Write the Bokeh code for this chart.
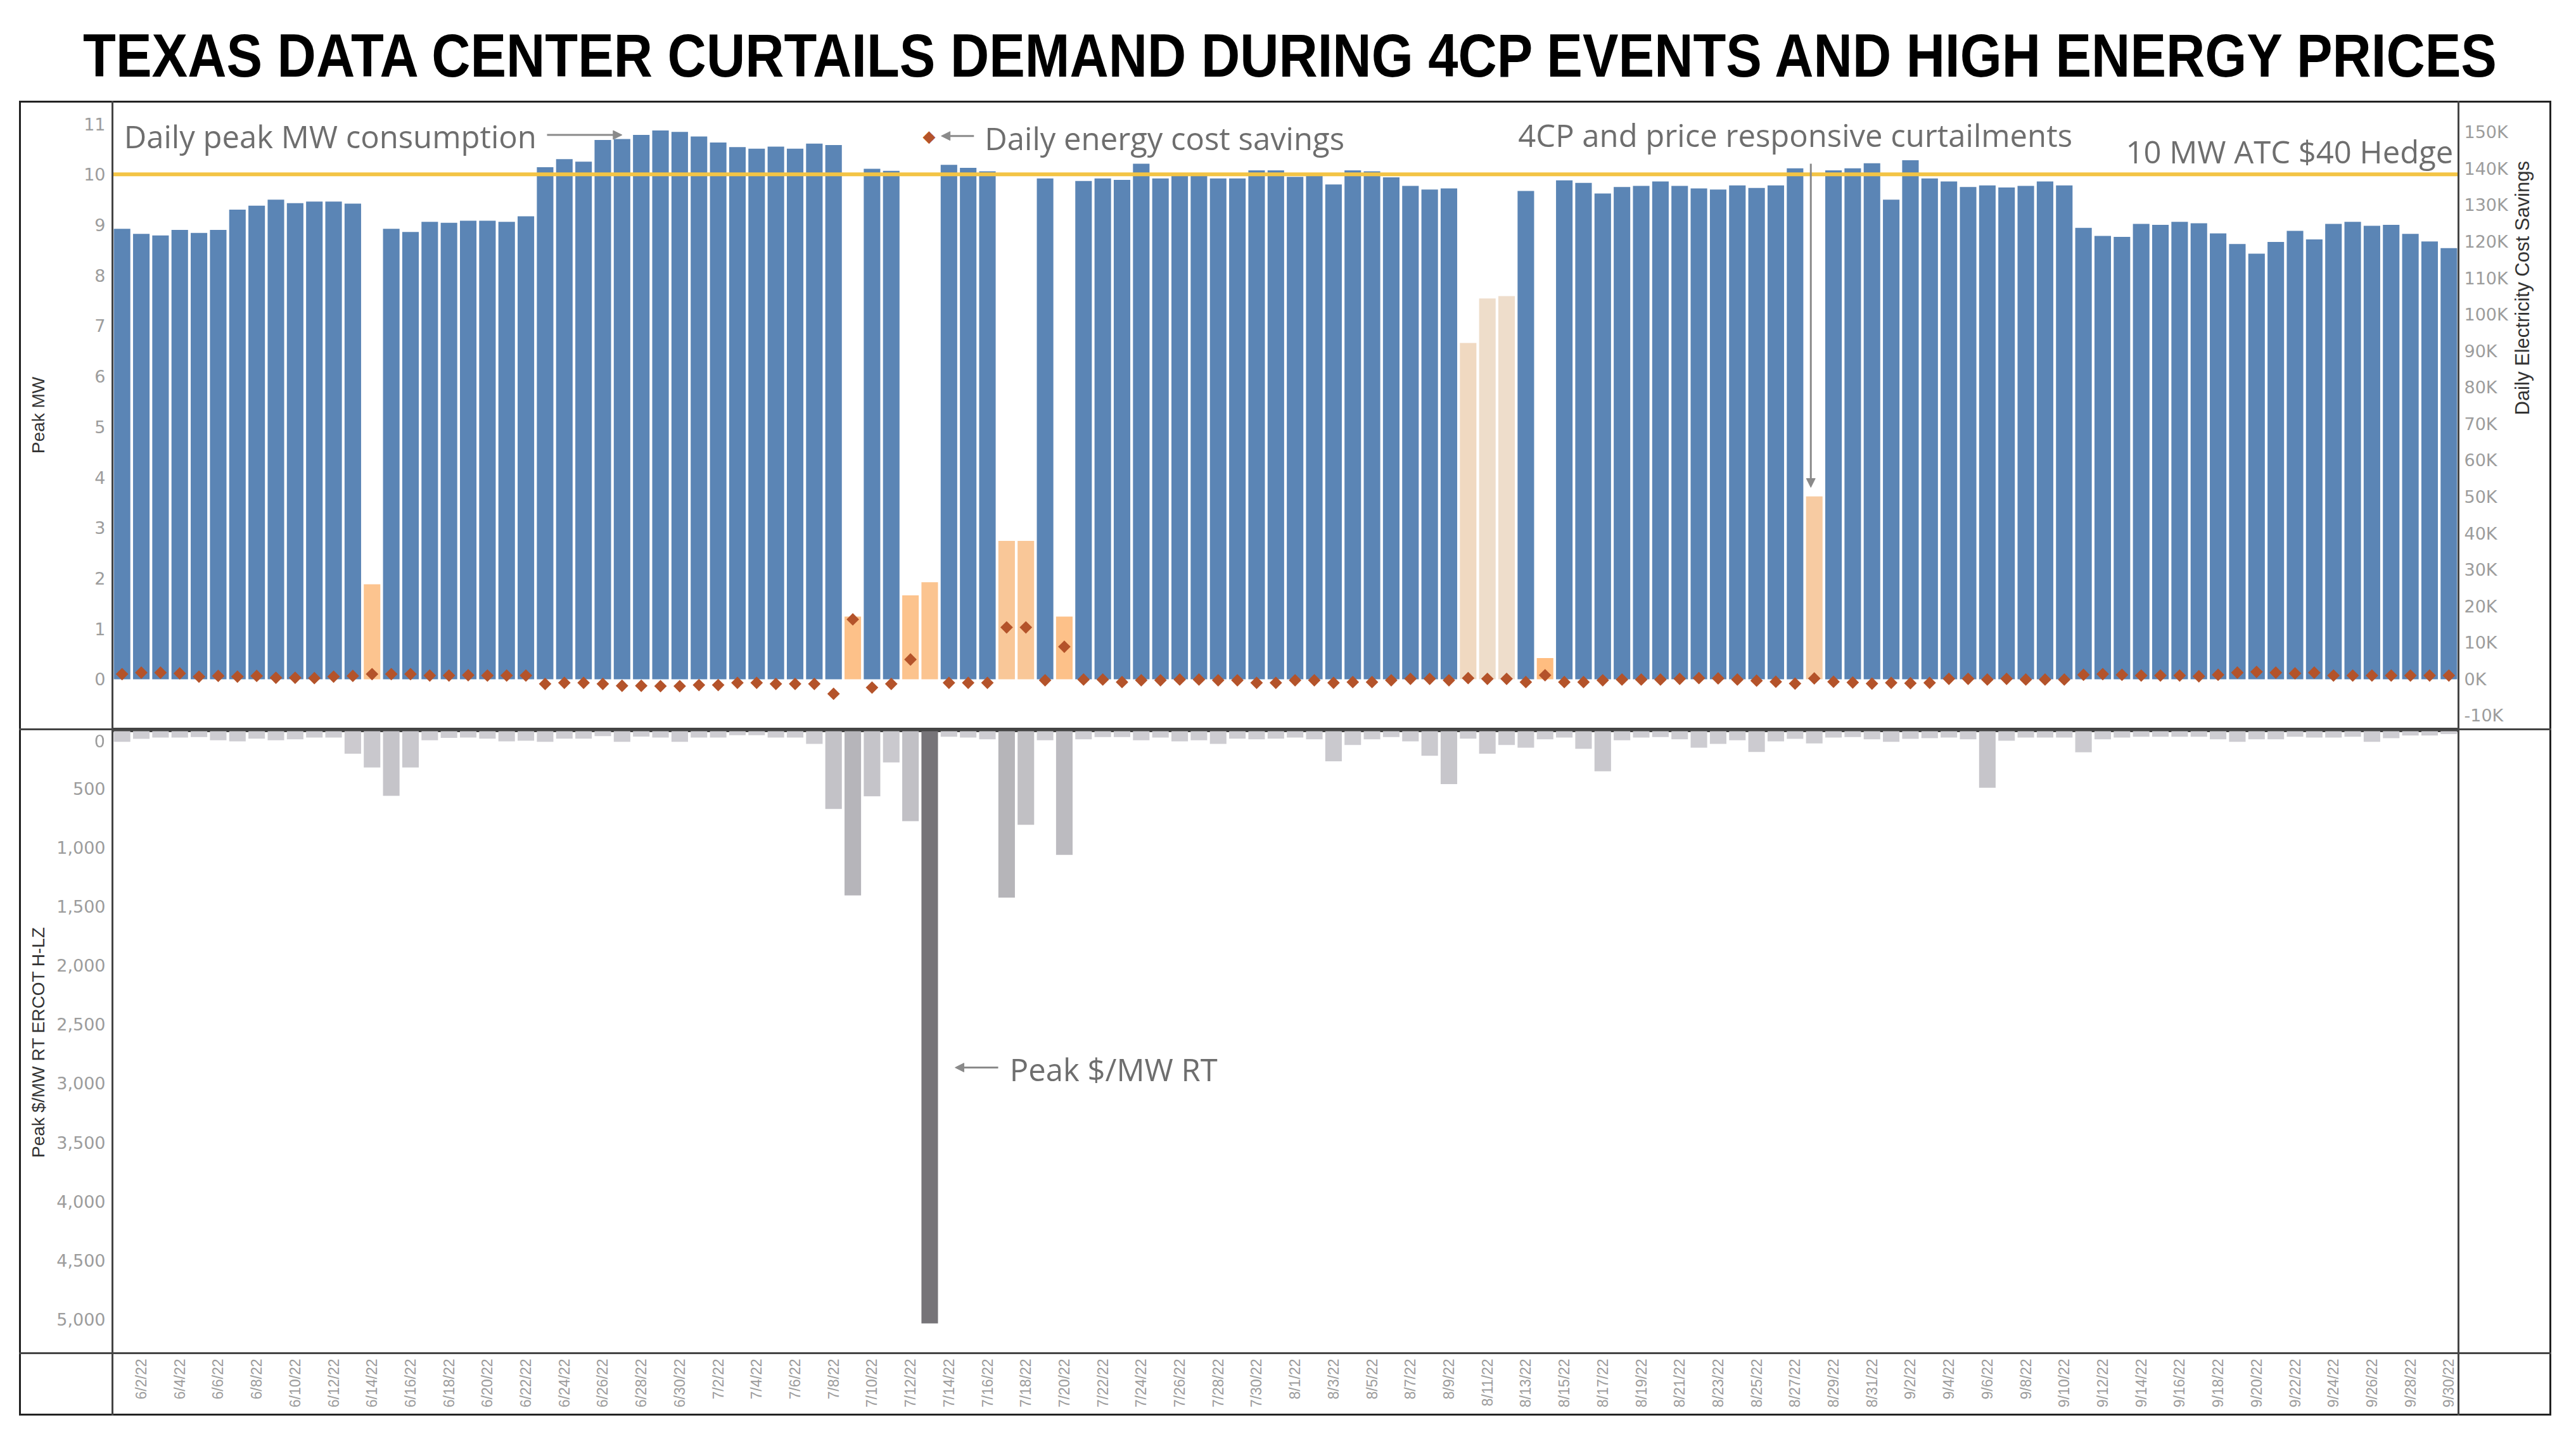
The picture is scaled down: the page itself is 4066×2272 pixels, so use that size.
import math
import numpy as np
import pandas as pd
from bokeh.plotting import figure
from bokeh.layouts import column
from bokeh.models import (Range1d, LinearAxis, FixedTicker, NumeralTickFormatter, PrintfTickFormatter,
                          ColumnDataSource, Span, Label, Arrow, NormalHead, Div)
from bokeh.transform import linear_cmap
from bokeh.embed import file_html
from bokeh.resources import INLINE

# ---------------- data ----------------
dates = [f"{d.month}/{d.day}/{d.year % 100}" for d in pd.date_range("2022-06-01", "2022-09-30")]

peak_mw = [
    8.92, 8.82, 8.79, 8.90, 8.84, 8.90, 9.30, 9.38, 9.50, 9.43, 9.46, 9.46, 9.42, 1.88, 8.92,
    8.86, 9.06, 9.04, 9.08, 9.08, 9.06, 9.17, 10.14, 10.30, 10.25, 10.68, 10.70, 10.78, 10.87, 10.84,
    10.75, 10.63, 10.54, 10.51, 10.55, 10.51, 10.61, 10.58, 1.24, 10.11, 10.07, 1.66, 1.92, 10.19, 10.13,
    10.06, 2.74, 2.74, 9.92, 1.24, 9.87, 9.92, 9.89, 10.21, 9.92, 9.98, 9.98, 9.92, 9.92, 10.08, 10.08,
    9.95, 9.98, 9.80, 10.08, 10.06, 9.94, 9.77, 9.70, 9.72, 6.66, 7.54, 7.59, 9.67, 0.42, 9.88,
    9.83, 9.62, 9.75, 9.77, 9.86, 9.77, 9.72, 9.70, 9.78, 9.73, 9.78, 10.12, 3.62, 10.08, 10.12, 10.22,
    9.50, 10.28, 9.92, 9.86, 9.75, 9.78, 9.74, 9.77, 9.86, 9.78, 8.94, 8.78, 8.76, 9.02, 9.00,
    9.06, 9.03, 8.83, 8.62, 8.43, 8.66, 8.88, 8.71, 9.02, 9.06, 8.98, 9.00, 8.82, 8.67, 8.54,
]

savings_k = [
    1.4, 1.8, 1.8, 1.6, 0.7, 0.9, 0.7, 0.9, 0.4, 0.4, 0.3, 0.7, 0.9, 1.4, 1.4,
    1.4, 1.0, 1.0, 1.1, 1.0, 1.0, 1.0, -1.3, -1.0, -1.0, -1.3, -1.8, -1.8, -1.9, -1.9,
    -1.6, -1.6, -1.0, -1.0, -1.3, -1.3, -1.3, -4.0, 16.4, -2.3, -1.3, 5.4, float("nan"), -1.0, -1.0,
    -1.0, 14.2, 14.2, -0.3, 8.9, -0.1, -0.1, -0.8, -0.3, -0.3, -0.1, -0.1, -0.3, -0.3, -1.0, -1.0,
    -0.3, -0.3, -1.0, -0.8, -0.8, -0.3, 0.1, 0.1, -0.3, 0.3, 0.1, 0.1, -0.8, 1.1, -0.8,
    -0.8, -0.3, -0.1, -0.1, -0.1, 0.1, 0.3, 0.2, -0.1, -0.4, -0.7, -1.2, 0.2, -0.7, -0.9, -1.2,
    -1.0, -1.1, -1.0, 0.1, 0.1, -0.1, 0.1, -0.1, -0.1, -0.1, 1.2, 1.4, 1.2, 1.0, 1.0,
    1.0, 0.8, 1.2, 1.8, 2.0, 1.8, 1.6, 1.8, 1.0, 1.0, 1.0, 1.0, 1.0, 1.0, 1.0,
]

peak_price = [
    104, 79, 68, 68, 64, 91, 100, 77, 91, 82, 68, 68, 204, 322, 562,
    322, 91, 70, 68, 77, 100, 95, 104, 77, 77, 55, 104, 59, 68, 104,
    68, 68, 47, 47, 68, 68, 122, 673, 1407, 566, 279, 777, 5035, 61, 68,
    82, 1425, 807, 91, 1063, 82, 64, 64, 91, 68, 100, 91, 122, 77, 82, 77,
    68, 82, 269, 131, 82, 64, 100, 222, 462, 77, 204, 131, 154, 82, 68,
    163, 354, 91, 68, 64, 82, 154, 122, 91, 190, 100, 79, 118, 68, 64, 82,
    104, 79, 73, 68, 82, 494, 95, 68, 68, 68, 193, 82, 68, 61, 61,
    61, 61, 82, 104, 82, 82, 61, 68, 68, 61, 104, 73, 50, 50, 38,
]

curtailed_days = ["6/14/22", "7/9/22", "7/12/22", "7/13/22", "7/17/22", "7/18/22", "7/20/22",
                  "8/10/22", "8/11/22", "8/12/22", "8/14/22", "8/28/22"]

hedge_mw = 10
left_ticks = list(range(0, 12))
right_ticks = list(range(-10, 151, 10))
price_ticks = list(range(500, 5001, 500))
date_ticks = list(range(1, len(dates), 2))

TITLE = "TEXAS DATA CENTER CURTAILS DEMAND DURING 4CP EVENTS AND HIGH ENERGY PRICES"

# ---------------- helpers ----------------
def ramp(c0, c1, n=256):
    a = np.array([int(c0[i:i + 2], 16) for i in (1, 3, 5)], dtype=float)
    b = np.array([int(c1[i:i + 2], 16) for i in (1, 3, 5)], dtype=float)
    out = []
    for t in np.linspace(0, 1, n):
        c = np.round(a + (b - a) * t).astype(int)
        out.append("#%02x%02x%02x" % tuple(c))
    return out

BLUE = "#5B85B5"
DIAMOND = "#B4532A"
ANN = "#6E6E6E"
ARROW = "#8A8A8A"
GRIDLINE = "#444444"
TICK_COL = "#9C9C9C"

idx = list(range(len(dates)))
is_cut = [d in curtailed_days for d in dates]

src_blue = ColumnDataSource(dict(x=[i for i in idx if not is_cut[i]],
                                 mw=[peak_mw[i] for i in idx if not is_cut[i]]))
src_cut = ColumnDataSource(dict(x=[i for i in idx if is_cut[i]],
                                mw=[peak_mw[i] for i in idx if is_cut[i]]))
src_sav = ColumnDataSource(dict(x=idx, sav=np.array(savings_k, dtype=float)))
src_price = ColumnDataSource(dict(x=idx, price=peak_price))

x_range = Range1d(-0.5, len(dates) - 0.5)

def style_axis(ax):
    ax.axis_line_color = None
    ax.major_tick_line_color = None
    ax.minor_tick_line_color = None
    ax.major_tick_in = 0
    ax.major_tick_out = 0
    ax.minor_tick_in = 0
    ax.minor_tick_out = 0
    ax.major_label_text_font = "DejaVu Sans"
    ax.major_label_text_font_size = "27px"
    ax.major_label_text_color = TICK_COL
    ax.axis_label_text_font = "Liberation Sans"
    ax.axis_label_text_font_size = "28px"
    ax.axis_label_text_font_style = "normal"
    ax.axis_label_text_color = "#333333"

def ann(p, x, y, text, align="left"):
    p.add_layout(Label(x=x, y=y, text=text, text_align=align, text_baseline="alphabetic",
                       text_font="Open Sans", text_font_size="49px", text_color=ANN))

def arrow(p, x0, y0, x1, y1):
    p.add_layout(Arrow(end=NormalHead(size=14, fill_color=ARROW, line_color=ARROW, line_width=1),
                       x_start=x0, y_start=y0, x_end=x1, y_end=y1,
                       line_color=ARROW, line_width=3))

W = 4040
FL, FR = 177, 3880

# ---------------- title ----------------
title_div = Div(
    text=('<div style="position:fixed;left:2036px;top:40px;transform:translateX(-50%) scaleX(0.884);'
          'white-space:nowrap;font-family:\'Liberation Sans\',sans-serif;font-weight:bold;'
          f'font-size:96px;line-height:96px;color:#000;">{TITLE}</div>'),
    width=W, height=152, margin=(0, 0, 0, 0))

# ---------------- top panel ----------------
top = figure(width=W, height=1000, x_range=x_range, y_range=Range1d(-0.98, 11.44), title=None,
             output_backend="svg", toolbar_location=None, x_axis_location=None,
             min_border_left=FL, min_border_right=W - FR, min_border_top=8, min_border_bottom=2)
top.grid.visible = False
top.outline_line_color = GRIDLINE
top.outline_line_width = 3
top.background_fill_color = "white"
top.border_fill_color = "white"

lax = top.yaxis[0]
lax.ticker = FixedTicker(ticks=left_ticks)
lax.axis_label = "Peak MW"
style_axis(lax)
lax.major_label_standoff = 11
lax.axis_label_standoff = 53

top.extra_y_ranges = {"sav": Range1d(-13.57, 158.37)}
rax = LinearAxis(y_range_name="sav", ticker=FixedTicker(ticks=right_ticks),
                 formatter=PrintfTickFormatter(format="%dK"),
                 axis_label="Daily Electricity Cost Savings")
style_axis(rax)
rax.axis_label_text_font_size = "31px"
rax.major_label_standoff = 9
rax.axis_label_standoff = 20
try:
    rax.axis_label_orientation = math.pi / 2
except Exception:
    pass
top.add_layout(rax, "right")

top.vbar(x="x", top="mw", bottom=0, width=0.86, source=src_blue,
         fill_color=BLUE, line_color=None)
top.vbar(x="x", top="mw", bottom=0, width=0.86, source=src_cut,
         fill_color=linear_cmap("mw", ramp("#FFBD80", "#EEDDCB"), 0.4, 7.6),
         line_color=None)
top.add_layout(Span(location=hedge_mw, dimension="width", line_color="#F3C445", line_width=6))
top.scatter(x="x", y="sav", source=src_sav, y_range_name="sav", marker="square",
            angle=math.pi / 4, size=14, fill_color=DIAMOND, line_color=None)

ann(top, 0.1, 10.76, "Daily peak MW consumption")
arrow(top, 22.1, 10.78, 26.0, 10.78)
top.add_layout(Label(x=41.97, y=10.76, text="\u25C6", text_align="center", text_baseline="middle",
                     text_font="DejaVu Sans", text_font_size="26px", text_color=DIAMOND))
arrow(top, 44.3, 10.76, 42.6, 10.76)
ann(top, 44.86, 10.72, "Daily energy cost savings")
ann(top, 72.6, 10.78, "4CP and price responsive curtailments")
arrow(top, 87.82, 10.21, 87.82, 3.80)
ann(top, 121.23, 10.45, "10 MW ATC $40 Hedge", align="right")

# ---------------- bottom panel ----------------
bot = figure(width=W, height=1088, x_range=x_range, y_range=Range1d(5288, 14), title=None,
             output_backend="svg", toolbar_location=None,
             min_border_left=FL, min_border_right=W - FR, min_border_top=2, min_border_bottom=104)
bot.grid.visible = False
bot.outline_line_color = GRIDLINE
bot.outline_line_width = 3
bot.background_fill_color = "white"
bot.border_fill_color = "white"

bax = bot.yaxis[0]
bax.ticker = FixedTicker(ticks=price_ticks)
bax.formatter = NumeralTickFormatter(format="0,0")
bax.axis_label = "Peak $/MW RT ERCOT H-LZ"
style_axis(bax)
bax.major_label_standoff = 11
bax.axis_label_standoff = 10

xax = bot.xaxis[0]
style_axis(xax)
xax.ticker = FixedTicker(ticks=date_ticks)
xax.major_label_overrides = {float(i): dates[i] for i in date_ticks}
xax.major_label_orientation = math.pi / 2
xax.major_label_text_font = "Liberation Sans"
xax.major_label_text_font_size = "23px"
xax.major_label_standoff = 9

bot.vbar(x="x", top="price", bottom=0, width=0.86, source=src_price,
         fill_color=linear_cmap("price", ramp("#CFCED3", "#767478"), 0, 5035),
         line_color=None)

ann(bot, 46.16, 2880, "Peak $/MW RT")
arrow(bot, 45.56, 2866, 43.32, 2866)

# ---------------- table frame lines (page pixels) ----------------
def hl(x0, x1, y, c=GRIDLINE):
    return (f'<div style="position:fixed;left:{x0 - 1}px;top:{y - 1}px;width:{x1 - x0 + 3}px;'
            f'height:3px;background:{c};z-index:50;pointer-events:none;"></div>')

def vl(x, y0, y1, c=GRIDLINE):
    return (f'<div style="position:fixed;left:{x - 1}px;top:{y0 - 1}px;width:3px;'
            f'height:{y1 - y0 + 3}px;background:{c};z-index:50;pointer-events:none;"></div>')

OX0, OX1, OY0, OY1 = 31, 4025, 160, 2233
lines = "".join([
    hl(OX0, OX1, OY0, "#222"), hl(OX0, OX1, OY1, "#222"),
    vl(OX0, OY0, OY1, "#222"), vl(OX1, OY0, OY1, "#222"),
    vl(FL, OY0, OY1), vl(FR, OY0, OY1),
    hl(OX0, OX1, 1151), hl(OX0, OX1, 2136),
])
# the price axis' zero label sits just under the panel edge, as in the reference
zero_label = ('<div style="position:fixed;left:96px;top:1155px;width:70px;text-align:right;'
              f'font-family:\'DejaVu Sans\';font-size:27px;line-height:32px;color:{TICK_COL};">0</div>')
frame_div = Div(text=lines + zero_label, width=1, height=1, margin=(0, 0, 0, 0))

layout = column(title_div, top, bot, frame_div)
open("out.html", "w").write(file_html(layout, INLINE))
